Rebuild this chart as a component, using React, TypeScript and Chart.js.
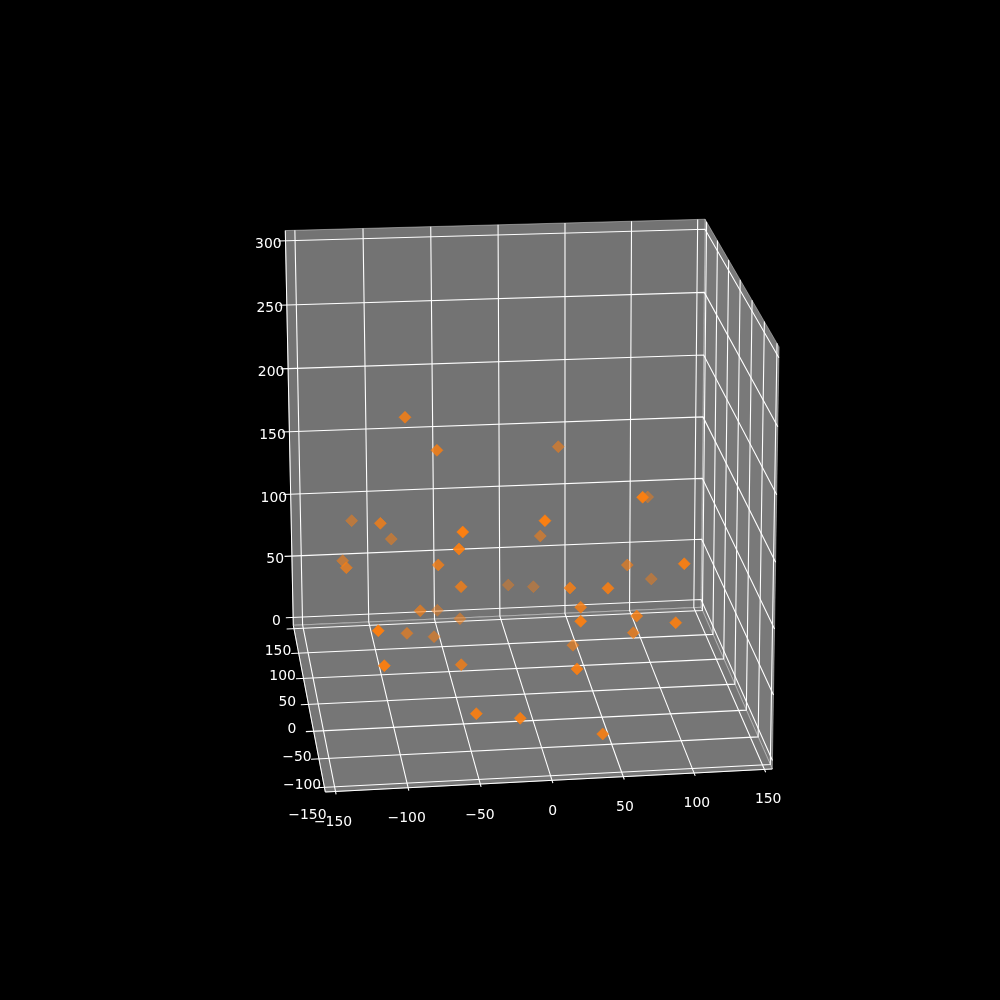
import { useEffect, useRef } from 'react';
import { Chart, registerables } from 'chart.js';

Chart.register(...registerables);

// 3D scatter values
const pointX = [-87.2, -66.0, 35.1, -114.6, -104.9, -86.2, -124.3, -127.9, -59.9, -58.9, -65.6, -50.3, 4.1, -74.5, -52.0, -38.3, -118.3, -82.2, -60.3, -3.5, 19.5, 22.7, 22.3, 44.9, 77.9, 106.7, 93.2, 63.9, 106.4, 29.2, 21.2, 67.7, 87.6, 72.6, 36.6, -114.5, -52.3, -51.4, -20.9, 18.7, 36.8];
const pointY = [24.3, 13.1, 130.6, 169.5, 31.8, 159.9, 135.3, 53.5, -98.5, -63.6, 15.2, 7.5, 186.0, 60.7, 164.0, 132.5, -98.5, 83.9, 105.8, -98.5, 113.4, 182.0, -33.5, -64.8, 68.7, 140.9, -98.5, -98.5, 159.8, -39.0, -98.5, -48.3, -98.5, 0.8, 58.5, -98.5, -9.1, -98.5, -98.5, -98.5, -98.5];
const pointZ = [221.0, 199.2, 157.1, 90.6, 138.7, 78.2, 71.8, 97.5, 178.3, 152.7, 111.3, 96.8, 27.1, 58.7, 17.6, 22.5, 108.2, 32.1, 19.7, 184.2, 93.3, 26.4, 108.3, 119.1, 84.5, 44.6, 148.1, 198.6, 103.8, 95.4, 108.5, 90.5, 104.3, 58.1, 27.0, 82.0, 43.4, 42.8, 37.7, 72.9, 22.7];

const xTicks = [-150, -100, -50, 0, 50, 100, 150];
const yTicks = [-100, -50, 0, 50, 100, 150, 200];
const zTicks = [0, 50, 100, 150, 200, 250, 300];
const yLabels = [-150, -100, -50, 0, 50, 100, 150];

const xLim = [-157, 155.6];
const yLim = [-108, 207];
const zLim = [-6.5, 307.9];

// camera fitted to the box corners
function depthOf(x: number, y: number, z: number) {
  const u = (x - xLim[0]) / (xLim[1] - xLim[0]);
  const v = (y - yLim[0]) / (yLim[1] - yLim[0]);
  const w = (z - zLim[0]) / (zLim[1] - zLim[0]);
  return 1 + 0.0198 * u + 0.09986 * v - 0.03185 * w;
}

function project(x: number, y: number, z: number) {
  const u = (x - xLim[0]) / (xLim[1] - xLim[0]);
  const v = (y - yLim[0]) / (yLim[1] - yLim[0]);
  const w = (z - zLim[0]) / (zLim[1] - zLim[0]);
  const d = depthOf(x, y, z);
  return {
    x: (325.3 + 462.29 * u - 2.71 * v - 17.89 * w) / d,
    y: (792 - 7.77 * u - 104.26 * v - 441.5 * w) / d,
  };
}

function path(corners: number[][], color: string, width: number, order: number) {
  return {
    data: corners.map((c) => project(c[0], c[1], c[2])),
    showLine: true,
    pointRadius: 0,
    borderColor: color,
    borderWidth: width,
    tension: 0,
    order,
  };
}

function pane(corners: number[][], fillColor: string) {
  return {
    ...path([...corners, corners[0]], 'rgba(255,255,255,0.4)', 1, 4),
    fill: 'shape',
    backgroundColor: fillColor,
  };
}

function shade(d: number) {
  const a = Math.min(1, Math.max(0.4, 1 - (0.6 * (d - 0.985)) / (1.1 - 0.985)));
  return `rgba(255,127,14,${a})`;
}

const minus = (n: number) => String(n).replace('-', '\u2212');

const tickLabels = {
  id: 'tickLabels',
  afterDraw(chart: Chart) {
    const { ctx } = chart;
    ctx.save();
    ctx.fillStyle = '#fff';
    ctx.font = '13.9px "DejaVu Sans"';
    ctx.textAlign = 'center';
    ctx.textBaseline = 'middle';
    xTicks.forEach((t) => {
      const p = project(t, -155, zLim[0]);
      ctx.fillText(minus(t), p.x - 8, p.y + 3.5);
    });
    yLabels.forEach((t) => {
      const p = project(xLim[0] - 16, t, zLim[0]);
      ctx.fillText(minus(t), p.x + 1, p.y - 3);
    });
    zTicks.forEach((t) => {
      const p = project(xLim[0] - 14, yLim[1], t);
      ctx.fillText(minus(t), p.x + 2, p.y + 3);
    });
    ctx.restore();
  },
};

export default function App() {
  const chartRef = useRef<HTMLCanvasElement>(null);

  useEffect(() => {
    if (!chartRef.current) return;
    const [x0, x1] = xLim;
    const [y0, y1] = yLim;
    const [z0, z1] = zLim;

    const order = pointX.map((_, i) => i).sort(
      (a, b) => depthOf(pointX[b], pointY[b], pointZ[b]) - depthOf(pointX[a], pointY[a], pointZ[a])
    );

    const datasets: any[] = [
      {
        data: order.map((i) => project(pointX[i], pointY[i], pointZ[i])),
        pointStyle: 'rectRot',
        pointRadius: 6,
        pointBorderWidth: 0.6,
        pointBackgroundColor: order.map((i) => shade(depthOf(pointX[i], pointY[i], pointZ[i]))),
        pointBorderColor: order.map((i) => shade(depthOf(pointX[i], pointY[i], pointZ[i]))),
        order: 0,
      },
      // axis lines
      path([[x0, y0, z0], [x1, y0, z0]], '#fff', 1, 1),
      path([[x0, y0, z0], [x0, y1, z0]], '#fff', 1, 1),
      path([[x0, y1, z0], [x0, y1, z1]], '#fff', 1, 1),
      // grid and tick marks
      ...xTicks.map((t) => path([[t, y0 - 5, z0], [t, y1, z0], [t, y1, z1]], '#fff', 1.1, 2)),
      ...yTicks.map((t) => path([[x0 - 5.5, t, z0], [x1, t, z0], [x1, t, z1]], '#fff', 1.1, 2)),
      ...zTicks.map((t) => path([[x0 - 5.5, y1, t], [x1, y1, t], [x1, y0, t]], '#fff', 1.1, 2)),
      // panes
      pane([[x0, y0, z0], [x1, y0, z0], [x1, y1, z0], [x0, y1, z0]], 'rgb(118,118,118)'),
      pane([[x0, y1, z0], [x1, y1, z0], [x1, y1, z1], [x0, y1, z1]], 'rgb(115,115,115)'),
      pane([[x1, y0, z0], [x1, y1, z0], [x1, y1, z1], [x1, y0, z1]], 'rgb(121,121,121)'),
    ];

    const chart = new Chart(chartRef.current, {
      type: 'scatter',
      data: { datasets },
      options: {
        animation: false,
        responsive: false,
        devicePixelRatio: 1,
        layout: { padding: 0, autoPadding: false },
        scales: {
          x: { type: 'linear', min: 0, max: 1000, display: false },
          y: { type: 'linear', min: 0, max: 1000, reverse: true, display: false },
        },
        plugins: { legend: { display: false }, tooltip: { enabled: false } },
      },
      plugins: [tickLabels],
    });

    return () => chart.destroy();
  }, []);

  return (
    <div style={{ position: 'absolute', left: 0, top: 0, width: 1000, height: 1000, background: '#000' }}>
      <canvas ref={chartRef} width={1000} height={1000} style={{ display: 'block' }} />
    </div>
  );
}
